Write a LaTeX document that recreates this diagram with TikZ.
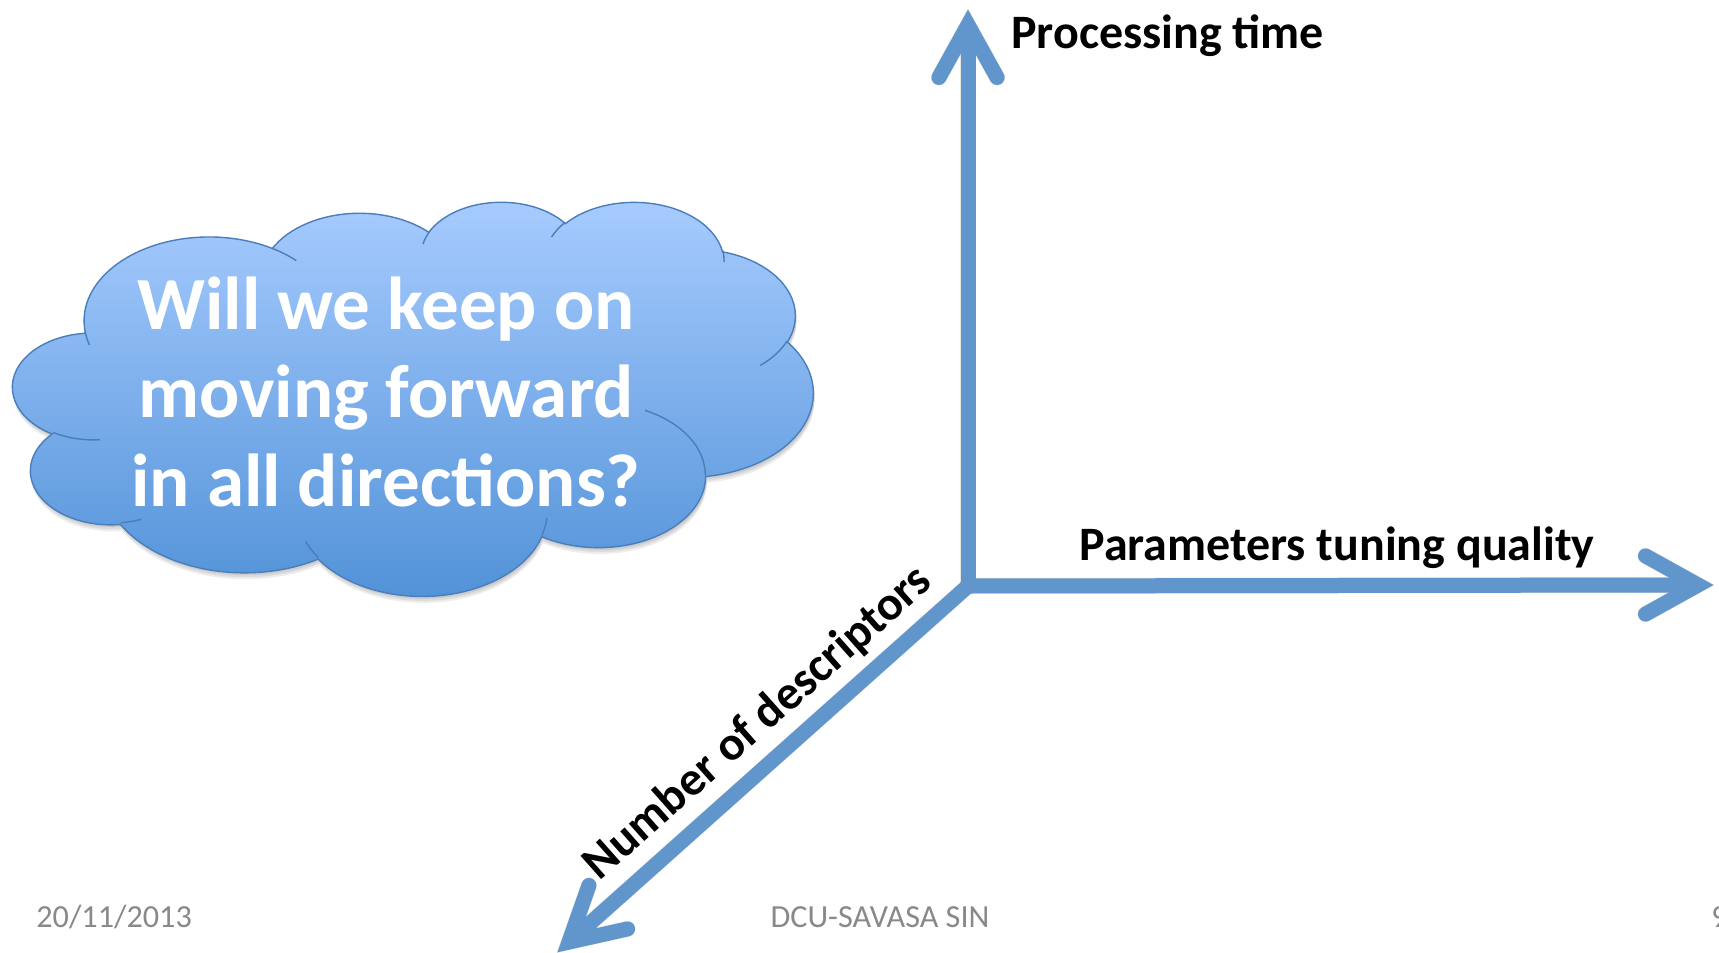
\documentclass[tikz,border=0pt]{standalone}
\usepackage{fontspec}
\setmainfont{Carlito}
\usetikzlibrary{calc}

\definecolor{axisblue}{RGB}{97,150,204}
\definecolor{cloudtop}{RGB}{168,204,255}
\definecolor{cloudbot}{RGB}{80,145,215}
\definecolor{cloudline}{RGB}{74,126,187}
\definecolor{footgrey}{RGB}{137,137,137}

% Elliptical arc given by radii, a start angle and a sweep measured as ray
% angles from the centre (converted to TikZ's parametric angles).
\newcommand\cloudarc[4]{arc[x radius=#1, y radius=#2,
  start angle={atan2((#1)*sin(#3),(#2)*cos(#3))},
  delta angle={mod(atan2((#1)*sin((#3)+(#4)),(#2)*cos((#3)+(#4)))-atan2((#1)*sin(#3),(#2)*cos(#3))+720,360)}]}

% Cloud outline in a 432 x 432 box (y pointing down)
\newcommand\cloudoutline{(39.00,143.70)
  \cloudarc{67.53}{91.90}{-190.4875}{123.7805}
  \cloudarc{53.33}{72.67}{-144.1024}{89.9452}
  \cloudarc{43.65}{59.45}{-145.8079}{99.7230}
  \cloudarc{48.57}{65.95}{-130.9861}{117.2417}
  \cloudarc{53.33}{72.73}{-78.7089}{109.0269}
  \cloudarc{67.75}{92.20}{-46.2673}{130.2690}
  \cloudarc{57.85}{78.67}{0.6250}{114.0333}
  \cloudarc{67.52}{92.15}{22.4516}{115.1726}
  \cloudarc{77.20}{105.43}{66.2426}{75.7110}
  \cloudarc{43.60}{59.18}{-274.9421}{146.7356}
  \cloudarc{43.45}{59.45}{-246.8285}{152.5189}
  -- cycle}

% Short inner arcs where the puffs overlap
\newcommand\cloudtails{
  (46.93,261.77) \cloudarc{43.45}{59.45}{86.7420}{26.4295}
  (69.28,348.99) \cloudarc{43.60}{59.18}{73.6105}{11.4475}
  (164.78,390.90) \cloudarc{67.52}{92.15}{137.6242}{14.0811}
  (288.27,347.51) \cloudarc{67.52}{92.15}{6.4533}{15.9984}
  (341.29,229.54) \cloudarc{57.85}{78.67}{-70.2924}{70.9174}
  (417.98,153.54) \cloudarc{53.33}{72.73}{30.3180}{27.7515}
  (383.24,54.26) \cloudarc{48.57}{65.95}{-13.7443}{14.8589}
  (290.78,39.52) \cloudarc{48.57}{65.95}{-149.1815}{18.1954}
  (221.41,47.20) \cloudarc{43.65}{59.45}{-163.4943}{17.6864}
  (140.00,51.92) \cloudarc{67.53}{91.90}{-66.7070}{12.3194}
  (41.27,157.89) \cloudarc{67.53}{91.90}{157.6544}{11.8582}}

\begin{document}
\begin{tikzpicture}[x=0.5pt, y=-0.5pt,
  shaft/.style={draw=axisblue, line width=7.5pt, line cap=butt},
  barb/.style={draw=axisblue, line width=7.5pt, line cap=round, line join=miter},
  shaftshadow/.style={draw=black, opacity=0.10, line width=8pt, xshift=1pt, yshift=-1.5pt},
  axislabel/.style={font=\fontsize{24}{28}\selectfont\bfseries, inner sep=0pt},
  cloudtext/.style={font=\fontsize{37.5}{44}\selectfont\bfseries, text=white, inner sep=0pt},
  footer/.style={font=\fontsize{16.1}{19}\selectfont, text=footgrey, inner sep=0pt}]

\fill[white] (0,0) rectangle (1719,953);
\useasboundingbox (0,0) rectangle (1719,953);

% ---------- cloud ----------
\begin{scope}[shift={(13,201)}, x=0.92593pt, y=-0.45602pt]
  \foreach \d in {1.2,2.2,3.2}
    \fill[black, opacity=0.07, xshift=0.6pt, yshift=-\d pt] \cloudoutline;
  \shade[top color=cloudtop, bottom color=cloudbot] \cloudoutline;
  \draw[cloudline, line width=0.7pt] \cloudoutline;
  \draw[cloudline, line width=0.7pt] \cloudtails;
\end{scope}

\node[cloudtext, anchor=base] (q1) at (386,329) {Will we keep on};
\node[cloudtext, anchor=base] (q2) at (386,417) {moving forward};
\node[cloudtext, anchor=base] (q3) at (386,506) {in all directions?};

% ---------- axes ----------
\coordinate (O)   at (968,586);
\coordinate (Obot) at (968,593);
\coordinate (Top) at (968,25);
\coordinate (Top1) at ($(Top)+(61:60)$);
\coordinate (Top2) at ($(Top)+(119:60)$);
\coordinate (Rt)  at (1698,585);
\coordinate (Rt1) at ($(Rt)+(151:60)$);
\coordinate (Rt2) at ($(Rt)+(209:60)$);
\coordinate (Dn)  at (569,942);
\coordinate (Dn1) at ($(Dn)+(-12.6:60)$);
\coordinate (Dn2) at ($(Dn)+(-70.6:60)$);

% soft shadows
\draw[shaftshadow] (Obot) -- (Top);
\draw[shaftshadow] (O) -- (Rt);
\draw[shaftshadow] (O) -- (Dn);
\draw[shaftshadow, line cap=round] (Top1) -- (Top) -- (Top2);
\draw[shaftshadow, line cap=round] (Rt1) -- (Rt) -- (Rt2);
\draw[shaftshadow, line cap=round] (Dn1) -- (Dn) -- (Dn2);

\draw[shaft] (Obot) -- (Top);
\draw[shaft] (O) -- (Rt);
\draw[shaft] (O) -- (Dn);
\draw[barb] (Top1) -- (Top) -- (Top2);
\draw[barb] (Rt1) -- (Rt) -- (Rt2);
\draw[barb] (Dn1) -- (Dn) -- (Dn2);

\node[axislabel, anchor=base west] (lblT) at (1011,48) {Processing time};
\node[axislabel, anchor=base west] (lblQ) at (1079,560) {Parameters tuning quality};
\node[axislabel, anchor=base, rotate=41.6] (lblD) at (767,733) {Number of descriptors};

% ---------- footer ----------
\node[footer, anchor=base west] (date) at (36,927) {20/11/2013};
\node[footer, anchor=base] (org) at (880,927) {DCU-SAVASA SIN};
\node[footer, anchor=base west] (page) at (1711,927) {9};
\end{tikzpicture}
\end{document}
